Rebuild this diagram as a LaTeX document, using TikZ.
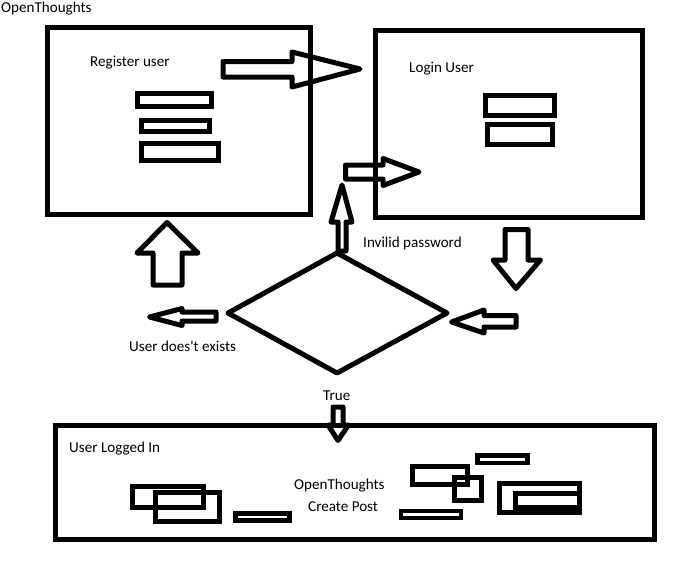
\documentclass[tikz,border=0pt]{standalone}
\usepackage{fontspec}
\setmainfont{Carlito}[Ligatures=TeXOff]
\begin{document}
\begin{tikzpicture}[x=1pt,y=-1pt,
  box/.style={draw,line width=5pt,line join=miter},
  barrow/.style={draw,line width=5pt,line join=round},
  lbl/.style={anchor=base west,inner sep=0pt,font=\fontsize{15.1}{18}\selectfont}]
\useasboundingbox (0,0) rectangle (693,566);
% titles and labels
\node[lbl] (title) at (1,12.3) {OpenThoughts};
\node[lbl] (reglbl) at (90,66.5) {Register user};
\node[lbl] (loglbl) at (409,72.7) {Login User};
\node[lbl] (invlbl) at (363,247.3) {Invilid password};
\node[lbl] (nouser) at (129,351.7) {User does't exists};
\node[lbl] (truelbl) at (323,400) {True};
\node[lbl] (inlbl) at (69,452.3) {User Logged In};
\node[lbl] (ot2) at (294,489) {OpenThoughts};
\node[lbl] (cpost) at (308,511) {Create Post};
% register screen
\draw[box] (47.5,27.5) rectangle (310.5,214);
\draw[box] (137.5,93.5) rectangle (211.5,106.5);
\draw[box] (141.5,120.5) rectangle (209.5,131.5);
\draw[box] (141.5,143.5) rectangle (218.5,160.5);
% login screen
\draw[box] (375,30.5) rectangle (642.5,217.5);
\draw[box] (485,95.5) rectangle (554,115.5);
\draw[box] (487.5,124.5) rectangle (552.5,144.5);
% decision diamond
\draw[box,line join=round] (337,253) -- (447,313) -- (337,373) -- (228,313) -- cycle;
% block arrows
\draw[barrow] (223,61.5) -- (292,61.5) -- (292,52) -- (360,69) -- (292,87) -- (292,77) -- (223,77) -- cycle;
\draw[barrow] (345.5,165) -- (383,165) -- (383,158.5) -- (419,172) -- (383,185.5) -- (383,179) -- (345.5,179) -- cycle;
\draw[barrow] (338,251) -- (338,222) -- (331,222) -- (342,185) -- (352,222) -- (346,222) -- (346,251) -- cycle;
\draw[barrow] (153,285) -- (153,253) -- (137,253) -- (167,222.5) -- (198,253) -- (182,253) -- (182,285) -- cycle;
\draw[barrow] (216,312) -- (182,312) -- (182,308.5) -- (149.5,317) -- (182,325.5) -- (182,321) -- (216,321) -- cycle;
\draw[barrow] (505,229.5) -- (528,229.5) -- (528,260) -- (540.5,260) -- (516,288.5) -- (493,260) -- (505,260) -- cycle;
\draw[barrow] (516,315.5) -- (484,315.5) -- (484,310) -- (451.5,322) -- (484,333) -- (484,327) -- (516,327) -- cycle;
\draw[barrow] (333,407) -- (343,407) -- (343,425) -- (348.5,425) -- (338,440.5) -- (328,425) -- (333,425) -- cycle;
% logged-in screen
\draw[box] (55.5,425.5) rectangle (654,539.5);
\draw[box] (132.5,486.5) rectangle (203,507.5);
\draw[box] (155.5,492.5) rectangle (219,521.5);
\draw[box,line width=4.5pt] (235.5,513.5) rectangle (289.5,520.5);
\draw[box,line width=4pt] (401,511.3) rectangle (460.7,518);
\draw[box] (412.5,466.5) rectangle (467.5,484);
\draw[box] (454.5,477) rectangle (481.5,500);
\draw[box,line width=4.5pt] (477.5,455.5) rectangle (527.5,463);
\draw[box] (499.5,483) rectangle (579.5,512);
\draw[box] (515.5,493.5) rectangle (579.5,507.5);
\end{tikzpicture}
\end{document}
